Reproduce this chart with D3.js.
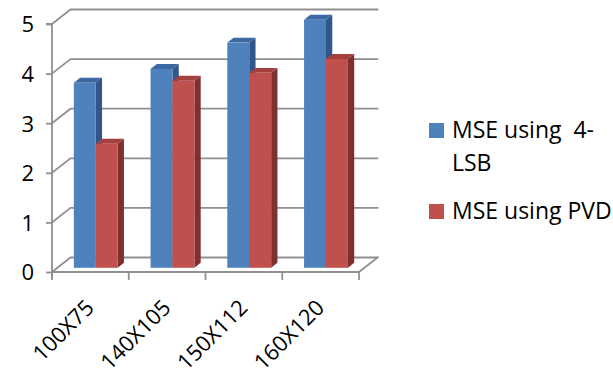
<!DOCTYPE html>
<html>
<head>
<meta charset="utf-8">
<script src="https://cdn.jsdelivr.net/npm/d3@7"></script>
<style>
  html, body { margin: 0; padding: 0; background: #fff; }
  svg { display: block; font-family: "Open Sans", sans-serif; }
</style>
</head>
<body>
<svg id="chart" width="613" height="376"></svg>
<script>
// Image sizes compared, and the MSE each method produces
const categories = ["100X75", "140X105", "150X112", "160X120"];
const seriesNames = ["MSE using  4-LSB", "MSE using PVD"];
const legendLines = [["MSE using  4-", "LSB"], ["MSE using PVD"]];
const mse4LSB = [3.73, 4.01, 4.54, 5.0];
const msePVD = [2.5, 3.77, 3.93, 4.21];
const yTicks = [0, 1, 2, 3, 4, 5];

const frontColors = ["#4F81BD", "#C0504D"];
const sideColors = ["#30578A", "#7F302E"];
const topColors = ["#3C69A2", "#A3413E"];

const svg = d3.select("#chart");

// Oblique 3-D projection: the floor/walls recede by (DX, DY) at full depth
const DX = 18.5, DY = -14.5;
const proj = (x, y, f) => [x + f * DX, y + f * DY];

const y = d3.scaleLinear().domain([0, 5]).range([272, 24]);
const x = d3.scaleBand().domain(categories).range([52, 359]).padding(0);
const xs = d3.scaleBand().domain(seriesNames).range([0, x.bandwidth()])
  .paddingInner(0).paddingOuter(0.75);

const x0 = x.range()[0], x1 = x.range()[1];
const grid = svg.append("g").attr("stroke", "#909090").attr("stroke-width", 1.8)
  .attr("fill", "none").attr("stroke-linecap", "square");

// Back-wall gridlines plus the side-wall diagonals
yTicks.forEach(v => {
  const a = proj(x0, y(v), 0), b = proj(x0, y(v), 1), c = proj(x1, y(v), 1);
  grid.append("path").attr("d", `M${a}L${b}L${c}`);
});
// Floor: right edge
grid.append("path").attr("d", `M${proj(x1, y(0), 0)}L${proj(x1, y(0), 1)}`);

// Front vertical value axis
const yAxis = d3.axisLeft(y).tickValues(yTicks).tickSize(6).tickPadding(12)
  .tickFormat(d3.format("d"));
const gy = svg.append("g").attr("transform", `translate(${x0},0)`).call(yAxis);
gy.select(".domain").attr("stroke", "#909090").attr("stroke-width", 1.8)
  .attr("d", `M-6,${y(5)}H0V${y(0) + 6}`);
gy.selectAll(".tick line").attr("stroke", "#909090").attr("stroke-width", 1.8);
gy.selectAll(".tick text").attr("fill", "#000").attr("font-size", 22)
  .attr("font-family", "'Open Sans', sans-serif").attr("dy", "0.36em");

// Front floor edge with ticks at category boundaries
grid.append("path").attr("d", `M${x0},${y(0)}H${x1}`);
const bounds = categories.map(c => x(c)).concat([x1]);
bounds.forEach(bx => {
  grid.append("path").attr("d", `M${bx},${y(0)}V${y(0) + 7}`);
});

// Bars (front face, top and right side), placed part-way into the depth
const F1 = 0.29, F2 = 0.63;
const values = [mse4LSB, msePVD];
const bars = svg.append("g");
categories.forEach((cat, i) => {
  seriesNames.forEach((s, k) => {
    const v = values[k][i];
    const left = x(cat) + xs(s), right = left + xs.bandwidth();
    const yt = y(v), yb = y(0);
    const p = (px, py, f) => proj(px, py, f);
    // right side face
    bars.append("path").attr("fill", sideColors[k])
      .attr("d", `M${p(right, yb, F1)}L${p(right, yb, F2)}L${p(right, yt, F2)}L${p(right, yt, F1)}Z`);
    // top face
    bars.append("path").attr("fill", topColors[k])
      .attr("d", `M${p(left, yt, F1)}L${p(right, yt, F1)}L${p(right, yt, F2)}L${p(left, yt, F2)}Z`);
    // front face
    const tl = p(left, yt, F1), br = p(right, yb, F1);
    bars.append("rect").attr("fill", frontColors[k])
      .attr("x", tl[0]).attr("y", tl[1])
      .attr("width", br[0] - tl[0]).attr("height", br[1] - tl[1]);
  });
});

// Category labels, slanted
svg.append("g").selectAll("text").data(categories).join("text")
  .attr("text-anchor", "end")
  .attr("font-size", 22)
  .attr("fill", "#000")
  .attr("transform", d => `translate(${x(d) + x.bandwidth() / 2 + 5},309) rotate(-45)`)
  .text(d => d);

// Legend
const legend = svg.append("g");
const legendY = [123, 204];
seriesNames.forEach((s, k) => {
  legend.append("rect").attr("x", 429).attr("y", legendY[k])
    .attr("width", 15).attr("height", 15).attr("fill", frontColors[k]);
  legendLines[k].forEach((line, j) => {
    legend.append("text").attr("x", 452).attr("y", legendY[k] + 15 + j * 33)
      .attr("font-size", 23).attr("fill", "#000")
      .style("white-space", "pre").text(line);
  });
});
</script>
</body>
</html>
